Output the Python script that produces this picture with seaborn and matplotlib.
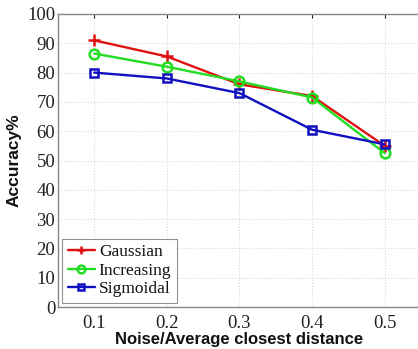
import numpy as np
import pandas as pd
import matplotlib
matplotlib.use("Agg")
import matplotlib.pyplot as plt
import seaborn as sns

noise = [0.1, 0.2, 0.3, 0.4, 0.5]
gaussian = [91.0, 85.5, 76.0, 72.0, 55.0]
increasing = [86.5, 82.0, 77.0, 71.5, 52.5]
sigmoidal = [80.0, 78.0, 73.0, 60.5, 55.5]
series_names = ["Gaussian", "Increasing", "Sigmoidal"]
yticks = list(range(0, 101, 10))

df = pd.DataFrame({
    "x": noise * 3,
    "y": gaussian + increasing + sigmoidal,
    "method": [n for n in series_names for _ in noise],
})

sns.set_style("white")
fig = plt.figure(figsize=(4.18, 3.49), dpi=100)
ax = fig.add_axes([58 / 418, 1 - 307 / 349, (421 - 58) / 418, (307 - 14) / 349])

palette = {"Gaussian": "#e01010", "Increasing": "#22dd22", "Sigmoidal": "#1010c0"}
markers = {"Gaussian": "+", "Increasing": "o", "Sigmoidal": "s"}
sizes = {"Gaussian": 8, "Increasing": 7, "Sigmoidal": 6}
for name in series_names:
    sub = df[df["method"] == name]
    sns.lineplot(data=sub, x="x", y="y", ax=ax, color=palette[name], marker=markers[name],
                 markersize=sizes[name], markerfacecolor="none",
                 markeredgecolor=palette[name], markeredgewidth=1.8, linewidth=1.7, label=name)

ax.set_xlim(0.05, 0.55)
ax.set_ylim(0, 100)
ax.set_xticks(noise)
ax.set_xticklabels([f"{v:.1f}" for v in noise], family="Liberation Serif", fontsize=13.5)
ax.set_yticks(yticks)
ax.set_yticklabels([str(v) for v in yticks], family="Liberation Serif", fontsize=13.5)
ax.grid(True, color="#d8d8d8", linestyle=":", linewidth=0.8)
ax.tick_params(direction="in", length=3, top=True, right=False, colors="#222222")
ax.tick_params(axis="x", pad=6)
ax.tick_params(axis="y", pad=2)
for s in ax.spines.values():
    s.set_color("#888888")
    s.set_linewidth(1.0)

ax.set_xlabel("Noise/Average closest distance", family="Liberation Sans", fontweight="bold",
              fontsize=12, labelpad=0, color="#111111")
ax.set_ylabel("Accuracy%", family="Liberation Sans", fontweight="bold", fontsize=12.5,
              labelpad=4, color="#111111")

leg = ax.legend(loc="lower left", frameon=True, fancybox=False, handlelength=1.6,
                handletextpad=0.2, borderpad=0.3, labelspacing=0.15, borderaxespad=0.25,
                prop={"family": "Liberation Serif", "size": 12.5}, markerscale=0.8)
leg.get_frame().set_edgecolor("#777777")
leg.get_frame().set_linewidth(0.8)
for t in leg.get_texts():
    t.set_color("#111111")

fig.savefig("out.png", dpi=100)
